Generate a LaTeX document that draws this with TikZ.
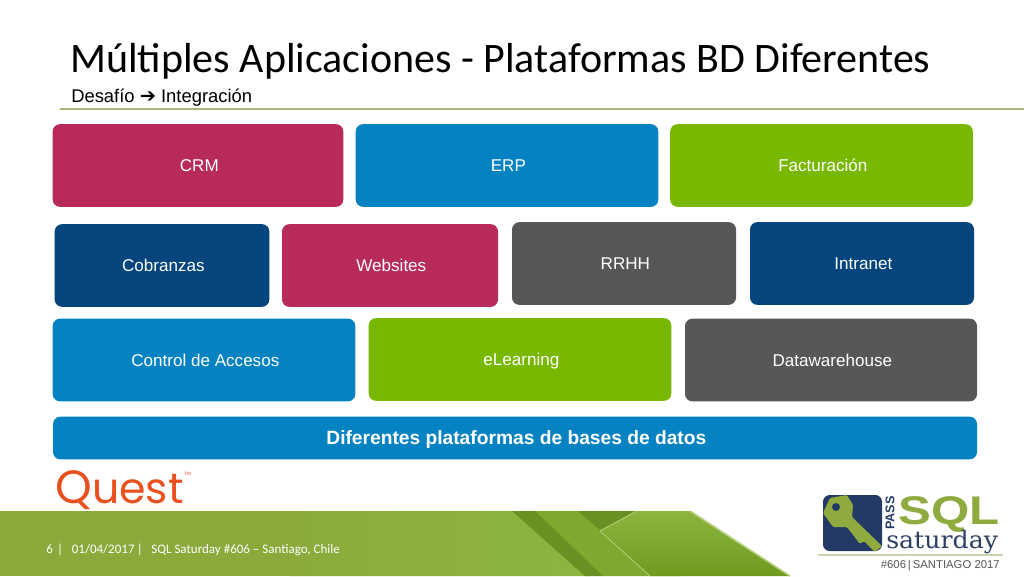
\documentclass[tikz,border=0pt]{standalone}
\usepackage{fontspec}
\setmainfont{Liberation Sans}
\newfontfamily\titlefont{Carlito}
\newfontfamily\symbfont{DejaVu Sans}
\newfontfamily\slabfont{DejaVu Serif}
\newfontfamily\questfont{Poppins}
\usetikzlibrary{positioning}

\definecolor{crimson}{HTML}{B72A5B}
\definecolor{skyblue}{HTML}{0582C1}
\definecolor{leaf}{HTML}{78B800}
\definecolor{navy}{HTML}{03457C}
\definecolor{slate}{HTML}{575757}
\definecolor{band}{HTML}{8AAB3C}
\definecolor{bandlight}{HTML}{8DB53F}
\definecolor{bandmid}{HTML}{7FA82F}
\definecolor{banddark}{HTML}{6A8F22}
\definecolor{bandlow}{HTML}{6F9A1E}
\definecolor{bandedge}{HTML}{B7CE7A}
\definecolor{rulegreen}{HTML}{A9B57C}
\definecolor{questorange}{HTML}{E8501E}
\definecolor{keyblue}{HTML}{233A66}
\definecolor{keygreen}{HTML}{8FAA3E}

\tikzset{
  app/.style={rectangle, rounded corners=5.5pt, inner sep=0pt, text=white, text height=9.5pt, text depth=0.5pt, font=\fontsize{12.8}{15}\selectfont, execute at begin node=\hspace*{2pt}},
}

\begin{document}
\begin{tikzpicture}[x=0.75pt, y=-0.75pt]
\useasboundingbox (0,0) rectangle (1024,576);
\fill[white] (0,0) rectangle (1024,576);

  % Footer
  \fill[band] (0,511) rectangle (690,576);
  \shade[left color=band, right color=bandlight] (290,511) -- (520,511) -- (590,576) -- (290,576) -- cycle;
  \fill[bandmid] (535,511) -- (640,511) -- (680,576) -- (603,576) -- cycle;
  \fill[banddark] (512,511) -- (535,511) -- (603,576) -- (585,576) -- cycle;
  \fill[banddark] (578,511) -- (635,511) -- (600,530) -- cycle;
  \shade[top color=bandlight, bottom color=bandlow] (600,531) -- (637,511) -- (690,511) -- (790,576) -- (650,576) -- cycle;
  \draw[bandedge, line width=1.2pt] (690,511) -- (790,576);
  \draw[bandedge, line width=0.6pt] (600,531) -- (637,511);
  \draw[bandedge, line width=0.6pt] (600,531) -- (650,576);
  \node (footer) [anchor=west, text=white, inner sep=0pt, font=\titlefont\fontsize{9.75}{11}\selectfont] at (46,550) {6\,\,|\,\,\,\,01/04/2017\,|\,\,\,\,SQL Saturday \#606 – Santiago, Chile};

  % Title
  \node (title) [anchor=west, inner sep=0pt, font=\titlefont\fontsize{31.5}{36}\selectfont] at (70,61) {Múltiples Aplicaciones - Plataformas BD Diferentes};
  \node (subtitle) [anchor=west, inner sep=0pt, font=\fontsize{13.8}{16}\selectfont] at (71,98) {Desafío {\symbfont\fontsize{14.5}{16}\selectfont ➔} Integración};
  \coordinate (ruleA) at (60,109);
  \coordinate (ruleB) at (1024,109);
  \draw[rulegreen, line width=0.9pt] (ruleA) -- (ruleB);

  % First row
  \node (crm) [app, fill=crimson, minimum width=218pt, minimum height=62pt] at (198,165.5) {CRM};
  \node (erp) [app, fill=skyblue, minimum width=227pt, minimum height=62pt] at (507,165.5) {ERP};
  \node (facturacion) [app, fill=leaf, minimum width=227pt, minimum height=62pt] at (821.5,165.5) {Facturación};

  % Second row
  \node (cobranzas) [app, fill=navy, minimum width=161pt, minimum height=62pt] at (162,265.5) {Cobranzas};
  \node (websites) [app, fill=crimson, minimum width=162pt, minimum height=62pt] at (390,265.5) {Websites};
  \node (rrhh) [app, fill=slate, minimum width=168pt, minimum height=62pt] at (624,263.5) {RRHH};
  \node (intranet) [app, fill=navy, minimum width=168pt, minimum height=62pt] at (862,263.5) {Intranet};

  % Third row
  \node (accesos) [app, fill=skyblue, minimum width=227pt, minimum height=62pt] at (204,360) {Control de Accesos};
  \node (elearning) [app, fill=leaf, minimum width=227pt, minimum height=62pt] at (520,359.5) {eLearning};
  \node (datawarehouse) [app, fill=slate, minimum width=219pt, minimum height=62pt] at (831,360) {Datawarehouse};

  % Platform bar
  \node (plataformas) [app, fill=skyblue, minimum width=693pt, minimum height=32pt, font=\bfseries\fontsize{14.4}{17}\selectfont] at (515,438) {Diferentes plataformas de bases de datos};

  % Quest logo
  \node (quest) [anchor=base west, inner sep=0pt, text=questorange, font=\questfont\fontsize{32}{36}\selectfont] at (55,503) {{\fontsize{35}{36}\selectfont Q}uest};
  \node (trademark) [anchor=west, inner sep=0pt, text=questorange, font=\fontsize{3.5}{4}\selectfont] at (184,474) {TM};

  % SQL Saturday logo
  \fill[keyblue, rounded corners=5pt] (823,495) rectangle (882,551);
  \fill[keygreen, rounded corners=1pt] (830,498) -- (847,495) -- (853,505) -- (852,517) -- (882,546) -- (875,552) -- (864,541) -- (860,544) -- (847,527) -- (833,527) -- (823,513) -- cycle;
  \fill[keyblue] (836,507) circle (3pt);
  \node (pass) [rotate=90, inner sep=0pt, text=keyblue, font=\bfseries\fontsize{9.5}{10}\selectfont] at (890,513) {PASS};
  \node (sql) [anchor=base west, inner sep=0pt, xscale=1.23, text=keygreen, font=\bfseries\fontsize{30}{32}\selectfont] at (898,524) {SQL};
  \node (saturday) [anchor=base west, inner sep=0pt, xscale=1.05, text=keyblue!80!slate, font=\slabfont\fontsize{18}{20}\selectfont] at (886,548) {saturday};
  \coordinate (lineA) at (818,555);
  \coordinate (lineB) at (1003,555);
  \draw[rulegreen!60, line width=1pt] (lineA) -- (lineB);
  \node (santiago) [anchor=east, inner sep=0pt, text=slate, font=\fontsize{8.5}{10}\selectfont] at (1000,566) {\#606\,|\,SANTIAGO 2017};
\end{tikzpicture}
\end{document}
